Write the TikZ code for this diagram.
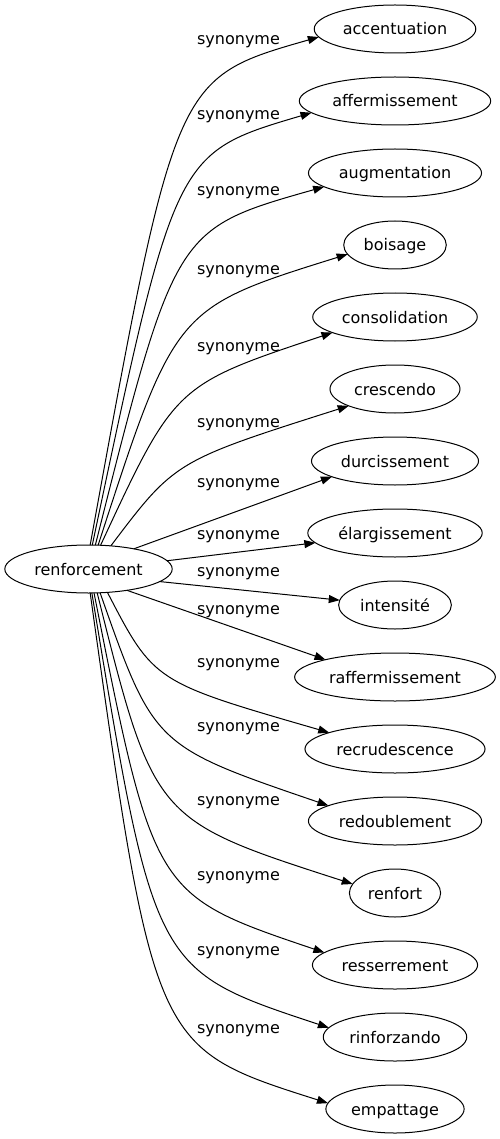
\documentclass[tikz,border=0pt]{standalone}
\usepackage{fontspec}
\setmainfont{DejaVu Sans}
\usetikzlibrary{positioning, shapes.geometric, arrows.meta}

\begin{document}
\begin{tikzpicture}[x=1pt, y=1pt, node distance=24pt, line width=1pt,
  >={Triangle[length=11pt, width=8pt]},
  word/.style={draw, ellipse, inner xsep=5pt, minimum height=48pt, outer sep=0pt,
    text height=12pt, text depth=0pt, font=\fontsize{16}{19}\selectfont},
  rel/.style={inner sep=0pt, font=\fontsize{16}{19}\selectfont}]
  \useasboundingbox (0,0) rectangle (499,-1139);

  \node[word]                   (root)   at (88.5,-569) {renforcement};
  \node[word]                   (acc)    at (395,-29)   {accentuation};
  \node[word, below=of acc]     (aff)    {affermissement};
  \node[word, below=of aff]     (aug)    {augmentation};
  \node[word, below=of aug]     (bois)   {boisage};
  \node[word, below=of bois]    (cons)   {consolidation};
  \node[word, below=of cons]    (cresc)  {crescendo};
  \node[word, below=of cresc]   (durc)   {durcissement};
  \node[word, below=of durc]    (elarg)  {élargissement};
  \node[word, below=of elarg]   (inten)  {intensité};
  \node[word, below=of inten]   (raff)   {raffermissement};
  \node[word, below=of raff]    (recru)  {recrudescence};
  \node[word, below=of recru]   (redoub) {redoublement};
  \node[word, below=of redoub]  (renf)   {renfort};
  \node[word, below=of renf]    (resser) {resserrement};
  \node[word, below=of resser]  (rinf)   {rinforzando};
  \node[word, below=of rinf]    (empat)  {empattage};

  % edge labels
  \node[rel] (syn1)  at (238.5,-42)   {synonyme};
  \node[rel] (syn2)  at (238.5,-117)  {synonyme};
  \node[rel] (syn3)  at (238.5,-193)  {synonyme};
  \node[rel] (syn4)  at (238.5,-272)  {synonyme};
  \node[rel] (syn5)  at (238.5,-349)  {synonyme};
  \node[rel] (syn6)  at (238.5,-425)  {synonyme};
  \node[rel] (syn7)  at (238.5,-485)  {synonyme};
  \node[rel] (syn8)  at (238.5,-537)  {synonyme};
  \node[rel] (syn9)  at (238.5,-574)  {synonyme};
  \node[rel] (syn10) at (238.5,-612)  {synonyme};
  \node[rel] (syn11) at (238.5,-665)  {synonyme};
  \node[rel] (syn12) at (238.5,-729)  {synonyme};
  \node[rel] (syn13) at (238.5,-803)  {synonyme};
  \node[rel] (syn14) at (238.5,-878)  {synonyme};
  \node[rel] (syn15) at (238.5,-953)  {synonyme};
  \node[rel] (syn16) at (238.5,-1031) {synonyme};

  \draw[->] (root.86)    .. controls (175,-78)   .. (acc.186);
  \draw[->] (root.81.5)  .. controls (175,-153)  .. (aff.188);
  \draw[->] (root.74.5)  .. controls (175,-229)  .. (aug.191);
  \draw[->] (root.68)    .. controls (175,-308)  .. (bois.191);
  \draw[->] (root.63.6)  .. controls (175,-385)  .. (cons.194.5);
  \draw[->] (root.46.5)  .. controls (175,-461)  .. (cresc.200.5);
  \draw[->] (root.24)    -- (durc.194);
  \draw[->] (root.6.5)   -- (elarg.187);
  \draw[->] (root.350)   -- (inten.175);
  \draw[->] (root.331)   -- (raff.166.5);
  \draw[->] (root.309)   .. controls (154,-682)  .. (recru.166.5);
  \draw[->] (root.296)   .. controls (154,-746)  .. (redoub.167);
  \draw[->] (root.290)   .. controls (154,-820)  .. (renf.168);
  \draw[->] (root.283)   .. controls (154,-895)  .. (resser.170.5);
  \draw[->] (root.278.5) .. controls (154,-970)  .. (rinf.172);
  \draw[->] (root.274)   .. controls (154,-1048) .. (empat.175);
\end{tikzpicture}
\end{document}
